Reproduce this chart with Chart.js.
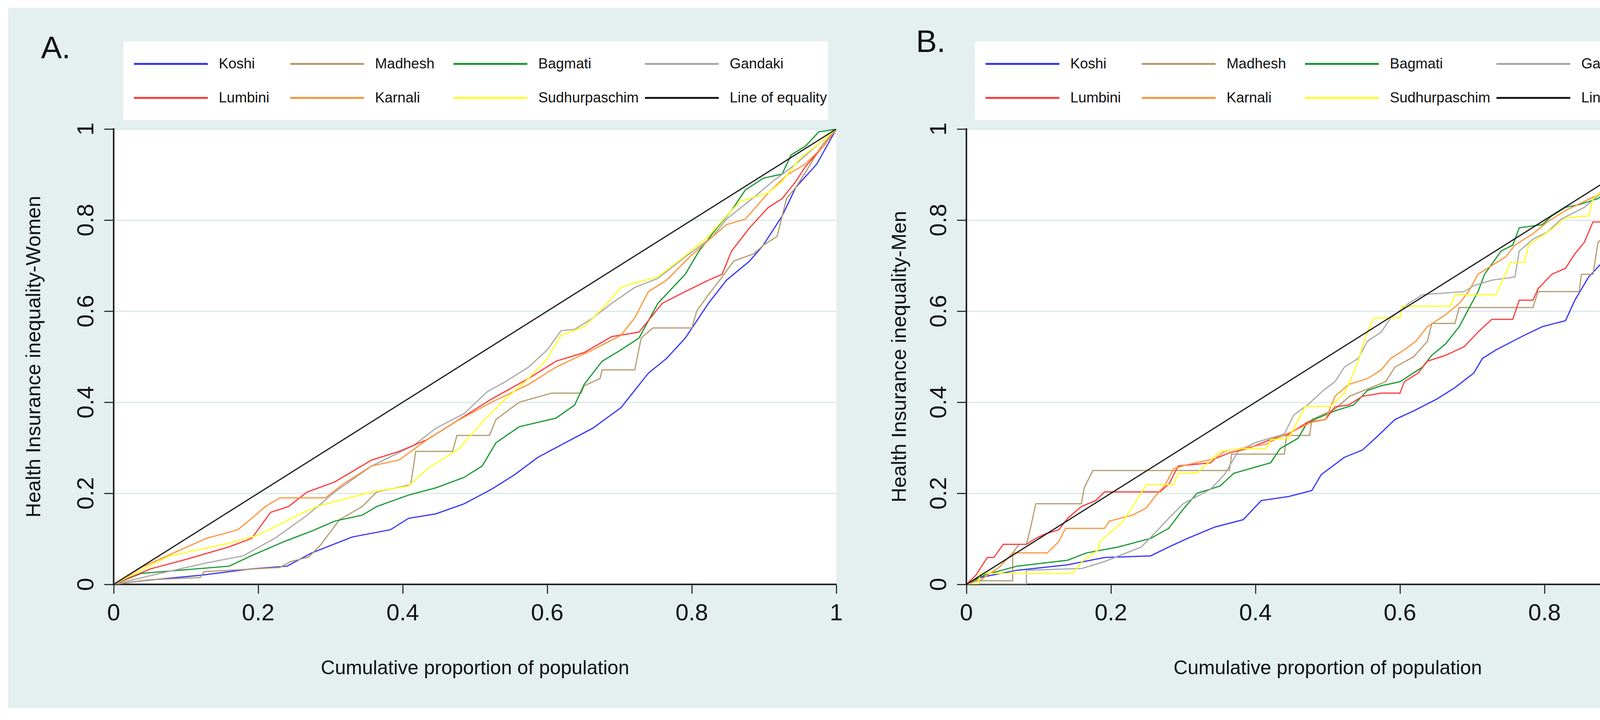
<!DOCTYPE html>
<html>
<head>
<meta charset="utf-8">
<title>Health insurance concentration curves by province</title>
<script src="https://cdn.jsdelivr.net/npm/chart.js@4.4.1/dist/chart.umd.min.js"></script>
<style>
  body { margin: 0; background: #fff; width: 4408px; height: 1842px; overflow: hidden;
         font-family: "Liberation Sans", Arial, sans-serif; }
  #frame { position: absolute; left: 21px; top: 20px; width: 4366px; height: 1791px; background: #e4eff0; }
  .panel { position: absolute; top: 20px; width: 2183px; height: 1791px; }
  #panelA { left: 21px; }
  #panelB { left: 2204px; }
  .panel canvas { position: absolute; left: 0; top: 0; }
  .tag { position: absolute; font-size: 80px; line-height: 1; color: #111; }
  .legend { position: absolute; top: 86px; height: 201px; background: #fff; }
  .legend-row { position: absolute; left: 27px; height: 50px; display: flex; align-items: center; }
  .legend-item { display: flex; align-items: center; font-size: 37px; color: #111; white-space: nowrap; }
  .legend-item:nth-child(1) { width: 400px; }
  .legend-item:nth-child(2) { width: 418px; }
  .legend-item:nth-child(3) { width: 490px; }
  .legend-line { width: 189px; height: 5px; margin-right: 28px; }
</style>
</head>
<body>
<div id="frame"></div>

<div class="panel" id="panelA">
  <canvas id="chartA" width="2183" height="1791"></canvas>
  <div class="tag" style="left:84px; top:62px;">A.</div>
  <div class="legend" id="legendA" style="left:295px; width:1804px;"></div>
</div>

<div class="panel" id="panelB">
  <canvas id="chartB" width="2183" height="1791"></canvas>
  <div class="tag" style="left:141px; top:46px;">B.</div>
  <div class="legend" id="legendB" style="left:292px; width:1806px;"></div>
</div>

<script>
// provinces, in legend order
var regions = ['Koshi', 'Madhesh', 'Bagmati', 'Gandaki', 'Lumbini', 'Karnali', 'Sudhurpaschim'];
var regionColors = ['#3535ff', '#b39c6e', '#17992f', '#a8a8a8', '#ff3c3c', '#ff9438', '#ffff1e'];

var tickValues = [0, 0.2, 0.4, 0.6, 0.8, 1];
var tickLabels = ['0', '0.2', '0.4', '0.6', '0.8', '1'];

// line of equality
var equality = [[0, 0], [1, 1]];

// A. women: [cumulative population share, cumulative insurance share]
var koshiW = [[0,0],[0.04,0.008],[0.12,0.02],[0.19,0.034],[0.24,0.04],[0.274,0.069],[0.33,0.104],[0.383,0.12],[0.408,0.145],[0.446,0.155],[0.485,0.177],[0.523,0.209],[0.555,0.241],[0.587,0.279],[0.625,0.311],[0.663,0.343],[0.702,0.388],[0.721,0.426],[0.74,0.464],[0.765,0.496],[0.791,0.541],[0.823,0.617],[0.848,0.668],[0.88,0.71],[0.899,0.745],[0.925,0.809],[0.944,0.872],[0.973,0.923],[1,1]];
var madheshW = [[0,0],[0.05,0.01],[0.12,0.015],[0.125,0.028],[0.23,0.037],[0.245,0.05],[0.27,0.06],[0.287,0.088],[0.3125,0.142],[0.344,0.171],[0.364,0.203],[0.411,0.219],[0.418,0.292],[0.469,0.292],[0.475,0.327],[0.52,0.327],[0.529,0.362],[0.561,0.4],[0.606,0.42],[0.647,0.42],[0.651,0.436],[0.673,0.452],[0.676,0.471],[0.721,0.471],[0.73,0.541],[0.746,0.563],[0.8,0.563],[0.807,0.601],[0.823,0.636],[0.842,0.675],[0.858,0.71],[0.886,0.726],[0.899,0.745],[0.918,0.764],[0.931,0.847],[0.944,0.872],[0.957,0.904],[0.979,0.962],[1,1]];
var bagmatiW = [[0,0],[0.038,0.024],[0.16,0.04],[0.19,0.0625],[0.236,0.094],[0.274,0.117],[0.306,0.139],[0.344,0.152],[0.364,0.171],[0.408,0.196],[0.446,0.212],[0.485,0.235],[0.51,0.26],[0.529,0.311],[0.561,0.346],[0.612,0.365],[0.638,0.394],[0.651,0.439],[0.676,0.49],[0.702,0.515],[0.727,0.541],[0.753,0.617],[0.791,0.681],[0.81,0.732],[0.835,0.783],[0.855,0.821],[0.874,0.866],[0.899,0.892],[0.925,0.901],[0.9375,0.943],[0.957,0.962],[0.976,0.994],[0.99,0.997],[1,1]];
var gandakiW = [[0,0],[0.064,0.024],[0.128,0.047],[0.179,0.0625],[0.223,0.101],[0.268,0.152],[0.306,0.203],[0.357,0.26],[0.415,0.305],[0.446,0.343],[0.485,0.375],[0.517,0.423],[0.542,0.445],[0.574,0.477],[0.6,0.515],[0.619,0.557],[0.638,0.56],[0.663,0.585],[0.689,0.617],[0.721,0.652],[0.753,0.672],[0.791,0.719],[0.829,0.764],[0.848,0.802],[0.886,0.85],[0.912,0.885],[0.944,0.923],[0.976,0.968],[1,1]];
var lumbiniW = [[0,0],[0.051,0.034],[0.096,0.053],[0.159,0.082],[0.191,0.101],[0.217,0.158],[0.242,0.171],[0.268,0.203],[0.306,0.225],[0.357,0.273],[0.395,0.292],[0.434,0.318],[0.472,0.356],[0.523,0.407],[0.574,0.452],[0.612,0.49],[0.651,0.509],[0.689,0.544],[0.727,0.554],[0.759,0.617],[0.791,0.643],[0.823,0.668],[0.842,0.681],[0.855,0.732],[0.88,0.783],[0.906,0.828],[0.925,0.847],[0.944,0.885],[0.957,0.917],[0.982,0.962],[1,1]];
var karnaliW = [[0,0],[0.038,0.037],[0.083,0.069],[0.128,0.101],[0.172,0.12],[0.191,0.145],[0.21,0.171],[0.23,0.19],[0.293,0.19],[0.319,0.222],[0.357,0.26],[0.395,0.273],[0.434,0.318],[0.472,0.356],[0.523,0.4],[0.574,0.439],[0.612,0.477],[0.663,0.515],[0.702,0.547],[0.721,0.585],[0.74,0.643],[0.765,0.668],[0.797,0.719],[0.829,0.764],[0.848,0.79],[0.874,0.802],[0.906,0.86],[0.931,0.898],[0.957,0.923],[0.982,0.962],[1,1]];
var sudhurW = [[0,0],[0.038,0.031],[0.077,0.0625],[0.115,0.075],[0.153,0.088],[0.198,0.107],[0.223,0.126],[0.255,0.152],[0.281,0.171],[0.357,0.203],[0.408,0.216],[0.434,0.254],[0.478,0.298],[0.51,0.356],[0.542,0.407],[0.574,0.452],[0.6,0.496],[0.619,0.547],[0.651,0.566],[0.676,0.605],[0.702,0.652],[0.721,0.662],[0.753,0.675],[0.784,0.713],[0.823,0.764],[0.848,0.809],[0.867,0.841],[0.906,0.86],[0.925,0.885],[0.95,0.936],[0.976,0.968],[1,1]];

// B. men
var koshiM = [[0,0],[0.019,0.015],[0.07,0.031],[0.14,0.043],[0.191,0.059],[0.255,0.0625],[0.28,0.082],[0.306,0.101],[0.344,0.126],[0.383,0.142],[0.408,0.184],[0.446,0.193],[0.478,0.206],[0.491,0.241],[0.523,0.279],[0.548,0.295],[0.568,0.324],[0.593,0.362],[0.619,0.381],[0.651,0.407],[0.676,0.432],[0.702,0.464],[0.714,0.496],[0.733,0.515],[0.772,0.547],[0.797,0.566],[0.829,0.579],[0.842,0.624],[0.861,0.675],[0.88,0.707],[0.893,0.726],[0.912,0.783],[0.925,0.828],[0.944,0.872],[0.969,0.917],[0.992,0.968],[1,1]];
var madheshM = [[0,0],[0.013,0.008],[0.064,0.008],[0.064,0.069],[0.073,0.088],[0.083,0.088],[0.089,0.126],[0.096,0.177],[0.159,0.177],[0.163,0.212],[0.175,0.25],[0.364,0.25],[0.367,0.286],[0.44,0.286],[0.443,0.327],[0.475,0.327],[0.478,0.362],[0.51,0.385],[0.53,0.413],[0.555,0.429],[0.58,0.445],[0.593,0.477],[0.619,0.5],[0.638,0.534],[0.644,0.573],[0.676,0.573],[0.682,0.608],[0.784,0.608],[0.791,0.643],[0.848,0.643],[0.851,0.681],[0.867,0.681],[0.874,0.751],[0.899,0.79],[0.918,0.821],[0.9375,0.872],[0.944,0.911],[0.989,0.93],[0.995,0.968],[1,1]];
var bagmatiM = [[0,0],[0.0255,0.021],[0.07,0.04],[0.14,0.053],[0.166,0.069],[0.21,0.082],[0.255,0.101],[0.28,0.123],[0.3,0.165],[0.319,0.2],[0.351,0.216],[0.37,0.244],[0.421,0.267],[0.434,0.298],[0.459,0.321],[0.472,0.356],[0.51,0.381],[0.536,0.394],[0.555,0.426],[0.574,0.436],[0.6,0.445],[0.631,0.477],[0.644,0.503],[0.663,0.528],[0.682,0.566],[0.695,0.605],[0.708,0.643],[0.717,0.681],[0.74,0.732],[0.756,0.745],[0.765,0.783],[0.797,0.79],[0.81,0.809],[0.829,0.828],[0.848,0.834],[0.874,0.847],[0.893,0.872],[0.912,0.879],[0.931,0.904],[0.957,0.936],[0.969,0.968],[0.985,0.994],[1,1]];
var gandakiM = [[0,0],[0.083,0],[0.083,0.031],[0.16,0.035],[0.191,0.05],[0.242,0.082],[0.261,0.113],[0.28,0.145],[0.3,0.177],[0.338,0.209],[0.357,0.241],[0.376,0.292],[0.399,0.311],[0.44,0.33],[0.453,0.372],[0.472,0.394],[0.494,0.426],[0.51,0.445],[0.523,0.477],[0.542,0.496],[0.555,0.534],[0.574,0.554],[0.587,0.585],[0.612,0.617],[0.631,0.636],[0.689,0.643],[0.702,0.656],[0.727,0.668],[0.759,0.675],[0.765,0.732],[0.784,0.758],[0.804,0.774],[0.823,0.802],[0.855,0.828],[0.874,0.853],[0.893,0.904],[0.912,0.936],[0.925,0.968],[0.969,0.968],[0.985,0.981],[1,1]];
var lumbiniM = [[0,0],[0.013,0.02],[0.029,0.059],[0.038,0.059],[0.051,0.088],[0.083,0.088],[0.096,0.101],[0.108,0.11],[0.128,0.12],[0.14,0.145],[0.159,0.171],[0.179,0.184],[0.191,0.203],[0.268,0.203],[0.281,0.222],[0.293,0.26],[0.338,0.267],[0.344,0.276],[0.364,0.289],[0.389,0.298],[0.421,0.318],[0.446,0.33],[0.472,0.356],[0.497,0.362],[0.51,0.39],[0.529,0.394],[0.548,0.413],[0.574,0.42],[0.6,0.42],[0.606,0.445],[0.625,0.464],[0.638,0.49],[0.663,0.503],[0.689,0.522],[0.708,0.554],[0.727,0.582],[0.756,0.582],[0.765,0.624],[0.784,0.624],[0.791,0.649],[0.81,0.681],[0.829,0.694],[0.842,0.726],[0.855,0.751],[0.867,0.796],[0.899,0.796],[0.912,0.866],[0.931,0.885],[0.944,0.904],[0.963,0.949],[0.976,0.974],[0.989,0.997],[1,1]];
var karnaliM = [[0,0],[0.02,0.01],[0.045,0.037],[0.064,0.069],[0.112,0.069],[0.128,0.094],[0.137,0.123],[0.191,0.123],[0.198,0.139],[0.23,0.152],[0.249,0.168],[0.261,0.193],[0.274,0.216],[0.287,0.254],[0.306,0.263],[0.344,0.276],[0.357,0.292],[0.415,0.308],[0.434,0.324],[0.453,0.337],[0.478,0.356],[0.497,0.362],[0.51,0.413],[0.529,0.439],[0.555,0.452],[0.574,0.471],[0.587,0.496],[0.606,0.515],[0.622,0.534],[0.638,0.566],[0.663,0.592],[0.682,0.617],[0.695,0.643],[0.708,0.681],[0.727,0.7],[0.746,0.719],[0.759,0.745],[0.784,0.77],[0.804,0.796],[0.829,0.821],[0.855,0.841],[0.88,0.86],[0.899,0.879],[0.918,0.888],[0.9375,0.911],[0.957,0.936],[0.976,0.968],[0.995,0.994],[1,1]];
var sudhurM = [[0,0],[0.016,0],[0.019,0.024],[0.147,0.024],[0.16,0.05],[0.182,0.075],[0.185,0.094],[0.217,0.139],[0.23,0.171],[0.249,0.219],[0.287,0.219],[0.293,0.244],[0.319,0.244],[0.351,0.292],[0.383,0.298],[0.415,0.298],[0.421,0.318],[0.446,0.321],[0.469,0.391],[0.504,0.391],[0.523,0.42],[0.529,0.439],[0.542,0.49],[0.548,0.522],[0.555,0.554],[0.564,0.585],[0.6,0.585],[0.603,0.611],[0.67,0.611],[0.676,0.636],[0.733,0.636],[0.74,0.662],[0.753,0.707],[0.772,0.707],[0.778,0.745],[0.81,0.78],[0.829,0.805],[0.861,0.809],[0.867,0.847],[0.886,0.872],[0.925,0.879],[0.944,0.904],[0.957,0.943],[0.985,0.962],[0.995,0.987],[1,1]];

Chart.defaults.font.family = '"Liberation Sans", Arial, sans-serif';
Chart.defaults.color = '#111';

// white plotting region (Stata style plotregion)
var plotBackground = {
	id: 'plotBackground',
	beforeDraw: function(chart) {
		var a = chart.chartArea;
		var ctx = chart.ctx;
		ctx.save();
		ctx.fillStyle = '#ffffff';
		ctx.fillRect(a.left, a.top, a.right - a.left, a.bottom - a.top);
		ctx.restore();
	}
};

// legend as html, two rows of four like the original
var htmlLegend = {
	id: 'htmlLegend',
	afterUpdate: function(chart, args, opts) {
		var box = document.getElementById(opts.containerID);
		box.innerHTML = '';
		var items = chart.options.plugins.legend.labels.generateLabels(chart);
		items.sort(function(a, b) { return a.datasetIndex - b.datasetIndex; });

		for (var r = 0; r < 2; r++) {
			var row = document.createElement('div');
			row.className = 'legend-row';
			row.style.top = (32 + r * 87) + 'px';
			items.slice(r * 4, r * 4 + 4).forEach(function(item) {
				var cell = document.createElement('div');
				cell.className = 'legend-item';
				var line = document.createElement('span');
				line.className = 'legend-line';
				line.style.background = item.strokeStyle;
				var text = document.createElement('span');
				text.textContent = item.text;
				cell.appendChild(line);
				cell.appendChild(text);
				row.appendChild(cell);
			});
			box.appendChild(row);
		}
	}
};

function toPoints(list) {
	return list.map(function(p) { return {x: p[0], y: p[1]}; });
}

function makeChart(canvasId, legendId, series, yTitle, yTitlePad) {
	var datasets = regions.map(function(name, i) {
		return {
			label: name,
			data: toPoints(series[i]),
			borderColor: regionColors[i],
			backgroundColor: regionColors[i],
			borderWidth: 3,
			pointRadius: 0,
			order: regions.length - i
		};
	});
	datasets.push({
		label: 'Line of equality',
		data: toPoints(equality),
		borderColor: '#1a1a1a',
		backgroundColor: '#1a1a1a',
		borderWidth: 3,
		pointRadius: 0,
		order: 0
	});

	var setTicks = function(scale) {
		scale.ticks = tickValues.map(function(v) { return {value: v}; });
	};
	var tickText = function(v) {
		var i = tickValues.indexOf(v);
		return i >= 0 ? tickLabels[i] : '';
	};

	return new Chart(document.getElementById(canvasId), {
		type: 'line',
		data: {datasets: datasets},
		plugins: [plotBackground, htmlLegend],
		options: {
			responsive: false,
			animation: false,
			layout: {padding: {top: 310, right: 63, left: 0, bottom: 0}},
			elements: {line: {tension: 0}},
			plugins: {
				legend: {display: false},
				tooltip: {enabled: false},
				htmlLegend: {containerID: legendId}
			},
			scales: {
				x: {
					type: 'linear',
					min: 0,
					max: 1,
					afterBuildTicks: setTicks,
					afterFit: function(scale) { scale.height = 316; },
					grid: {drawOnChartArea: false, tickLength: 24, tickColor: '#333', tickWidth: 3},
					border: {color: '#222', width: 4},
					ticks: {padding: 15, maxRotation: 0, autoSkip: false, color: '#111',
						font: {size: 60}, callback: tickText},
					title: {display: true, text: 'Cumulative proportion of population', color: '#111',
						font: {size: 50}, padding: {top: 0, bottom: 70}}
				},
				y: {
					type: 'linear',
					min: 0,
					max: 1,
					afterBuildTicks: setTicks,
					afterFit: function(scale) { scale.width = 270; },
					grid: {color: '#dae8eb', lineWidth: 3, tickLength: 24, tickColor: '#333', tickWidth: 3},
					border: {color: '#222', width: 4},
					ticks: {minRotation: 90, maxRotation: 90, crossAlign: 'center', padding: 3,
						autoSkip: false, color: '#111', font: {size: 60}, callback: tickText},
					title: {display: true, text: yTitle, color: '#111',
						font: {size: 52}, padding: {top: yTitlePad, bottom: 0}}
				}
			}
		}
	});
}

makeChart('chartA', 'legendA',
	[koshiW, madheshW, bagmatiW, gandakiW, lumbiniW, karnaliW, sudhurW],
	'Health Insurance inequality-Women', 36);

makeChart('chartB', 'legendB',
	[koshiM, madheshM, bagmatiM, gandakiM, lumbiniM, karnaliM, sudhurM],
	'Health Insurance inequality-Men', 69);
</script>
</body>
</html>
